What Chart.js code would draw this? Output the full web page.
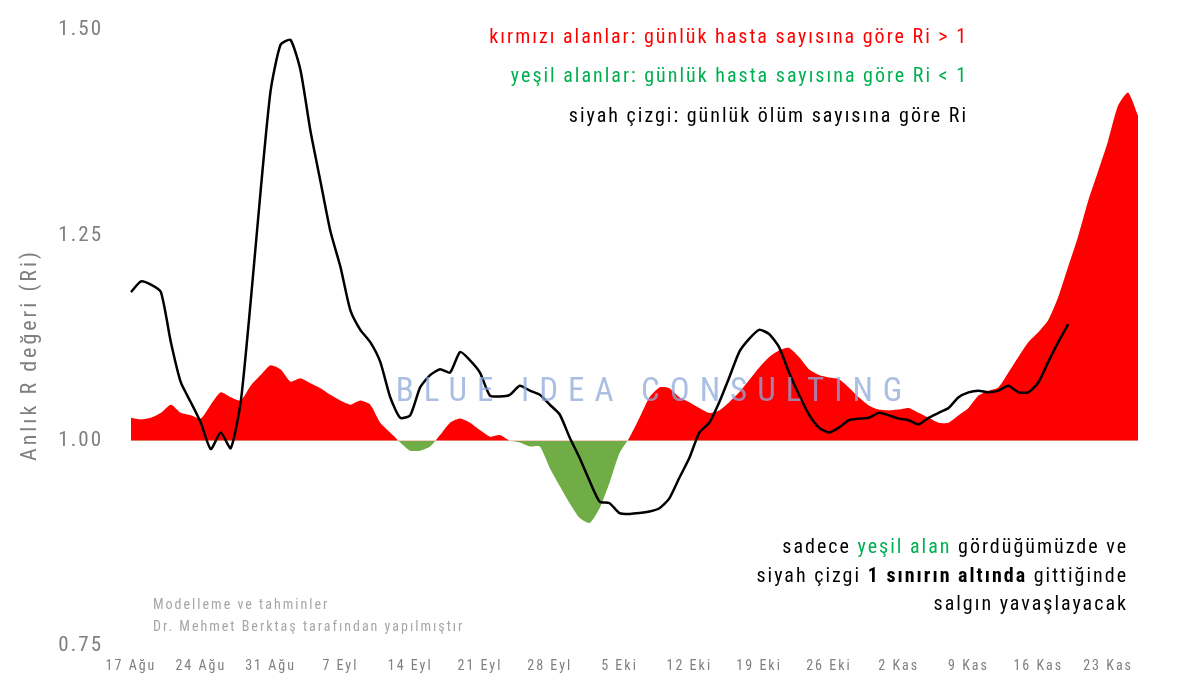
<!DOCTYPE html>
<html><head><meta charset="utf-8">
<script src="https://cdn.jsdelivr.net/npm/chart.js@4.4.0/dist/chart.umd.min.js"></script>
<style>html,body{margin:0;background:#fff}#w{width:1200px;height:687px}</style>
</head><body><div id="w"><canvas id="c"></canvas></div>
<script>
const startDate = [2020, 7, 17];
const monthNames = ["Oca","Şub","Mar","Nis","May","Haz","Tem","Ağu","Eyl","Eki","Kas","Ara"];
const caseRi = [1.028,1.026,1.028,1.034,1.044,1.034,1.031,1.027,1.044,1.059,1.053,1.049,1.067,1.080,1.092,1.087,1.072,1.076,1.070,1.064,1.056,1.049,1.044,1.049,1.044,1.022,1.010,0.998,0.988,0.988,0.993,1.007,1.022,1.027,1.022,1.013,1.005,1.007,1.0,0.998,0.993,0.993,0.967,0.945,0.924,0.906,0.900,0.918,0.949,0.985,1.004,1.028,1.053,1.065,1.064,1.053,1.047,1.040,1.034,1.037,1.047,1.059,1.074,1.089,1.102,1.110,1.113,1.102,1.087,1.080,1.077,1.075,1.065,1.053,1.043,1.038,1.037,1.038,1.040,1.034,1.028,1.022,1.022,1.031,1.040,1.055,1.061,1.065,1.083,1.102,1.120,1.132,1.147,1.175,1.212,1.249,1.292,1.328,1.365,1.408,1.424,1.396];
const deathRi = [1.181,1.194,1.190,1.181,1.120,1.071,1.047,1.022,0.990,1.010,0.991,1.047,1.169,1.304,1.426,1.482,1.488,1.451,1.377,1.316,1.255,1.212,1.159,1.135,1.120,1.096,1.053,1.028,1.031,1.065,1.080,1.087,1.083,1.108,1.098,1.083,1.055,1.054,1.056,1.067,1.061,1.056,1.044,1.032,1.004,0.979,0.951,0.926,0.924,0.912,0.911,0.912,0.914,0.918,0.930,0.955,0.979,1.010,1.022,1.047,1.077,1.108,1.124,1.135,1.130,1.114,1.083,1.056,1.032,1.016,1.010,1.016,1.025,1.027,1.028,1.034,1.031,1.027,1.025,1.020,1.028,1.034,1.040,1.053,1.059,1.061,1.059,1.061,1.067,1.059,1.059,1.071,1.096,1.120,1.142];
const yTicks = [0.75, 1.00, 1.25, 1.50];

const labels = caseRi.map((_, i) => {
  const d = new Date(startDate[0], startDate[1], startDate[2] + i);
  return d.getDate() + " " + monthNames[d.getMonth()];
});

const gray = "#7f7f7f";
const fontFam = "'Roboto Condensed','Roboto','DejaVu Sans Condensed',sans-serif";

function rich(ctx, segs, xRight, y) {
  let total = 0;
  segs.forEach(s => { ctx.font = s.f; total += ctx.measureText(s.t).width; });
  let x = xRight - total;
  segs.forEach(s => { ctx.font = s.f; ctx.fillStyle = s.c; ctx.fillText(s.t, x, y); x += ctx.measureText(s.t).width; });
}

const spacingPlugin = {
  id: 'spacing',
  beforeDraw(chart) { chart.ctx.letterSpacing = '2px'; },
  afterDraw(chart) { chart.ctx.letterSpacing = '0px'; }
};

const textPlugin = {
  id: 'texts',
  afterDatasetsDraw(chart) {
    const ctx = chart.ctx;
    ctx.save();
    ctx.textBaseline = 'middle';
    ctx.letterSpacing = '10px';
    ctx.font = "33px " + fontFam;
    ctx.fillStyle = "rgba(143,170,220,0.75)";
    ctx.textAlign = 'center';
    ctx.fillText("BLUE IDEA CONSULTING", 654, 393);
    ctx.letterSpacing = '3px';
    ctx.font = "22px " + fontFam;
    ctx.fillStyle = gray;
    ctx.translate(30, 355);
    ctx.rotate(-Math.PI / 2);
    ctx.fillText("Anlık R değeri (Ri)", 0, 0);
    ctx.setTransform(1,0,0,1,0,0);
    ctx.scale(chart.currentDevicePixelRatio, chart.currentDevicePixelRatio);
    ctx.textAlign = 'left';
    ctx.letterSpacing = '2px';
    const f = "20px " + fontFam, fb = "bold 20px " + fontFam;
    rich(ctx, [{t:"kırmızı alanlar: günlük hasta sayısına göre Ri > 1", c:"#ff0000", f}], 968, 38);
    rich(ctx, [{t:"yeşil alanlar: günlük hasta sayısına göre Ri < 1", c:"#00b050", f}], 968, 77);
    rich(ctx, [{t:"siyah çizgi: günlük ölüm sayısına göre Ri", c:"#000", f}], 968, 117);
    rich(ctx, [{t:"sadece ", c:"#000", f},{t:"yeşil alan", c:"#00b050", f},{t:" gördüğümüzde ve", c:"#000", f}], 1128, 548);
    rich(ctx, [{t:"siyah çizgi ", c:"#000", f},{t:"1 sınırın altında", c:"#000", f:fb},{t:" gittiğinde", c:"#000", f}], 1128, 577);
    rich(ctx, [{t:"salgın yavaşlayacak", c:"#000", f}], 1128, 605);
    ctx.letterSpacing = '2px';
    ctx.font = "14px " + fontFam;
    ctx.fillStyle = "#a6a6a6";
    ctx.fillText("Modelleme ve tahminler", 153, 605);
    ctx.fillText("Dr. Mehmet Berktaş tarafından yapılmıştır", 153, 627);
    ctx.restore();
  }
};

new Chart(document.getElementById('c'), {
  type: 'line',
  data: { labels, datasets: [
    { data: deathRi, borderColor: '#000', borderWidth: 2.5, pointRadius: 0, fill: false, tension: 0.2, order: 0 },
    { data: caseRi, borderWidth: 0, borderColor: 'rgba(0,0,0,0)', pointRadius: 0, tension: 0.2, order: 1,
      fill: { target: { value: 1 }, above: '#ff0000', below: '#70ad47' } }
  ]},
  options: {
    responsive: true, maintainAspectRatio: false, animation: false,
    layout: { padding: { left: 0, right: 62, top: 30, bottom: 0 } },
    plugins: { legend: { display: false }, tooltip: { enabled: false } },
    scales: {
      x: { grid: { display: false, drawTicks: false }, border: { display: false },
        ticks: { color: gray, font: { size: 14, family: fontFam }, maxRotation: 0, autoSkip: false, padding: 12,
          callback: (v, i) => i % 7 === 0 ? labels[i] : null } },
      y: { min: 0.75, max: 1.5, grid: { display: false, drawTicks: false }, border: { display: false },
        afterFit: s => { s.width = 131; s.paddingTop = 0; s.paddingBottom = 0; },
        afterBuildTicks: s => { s.ticks = yTicks.map(v => ({ value: v })); },
        ticks: { color: gray, padding: 28, font: { size: 21, family: fontFam }, callback: v => v.toFixed(2) } }
    }
  },
  plugins: [spacingPlugin, textPlugin]
});
</script></body></html>
